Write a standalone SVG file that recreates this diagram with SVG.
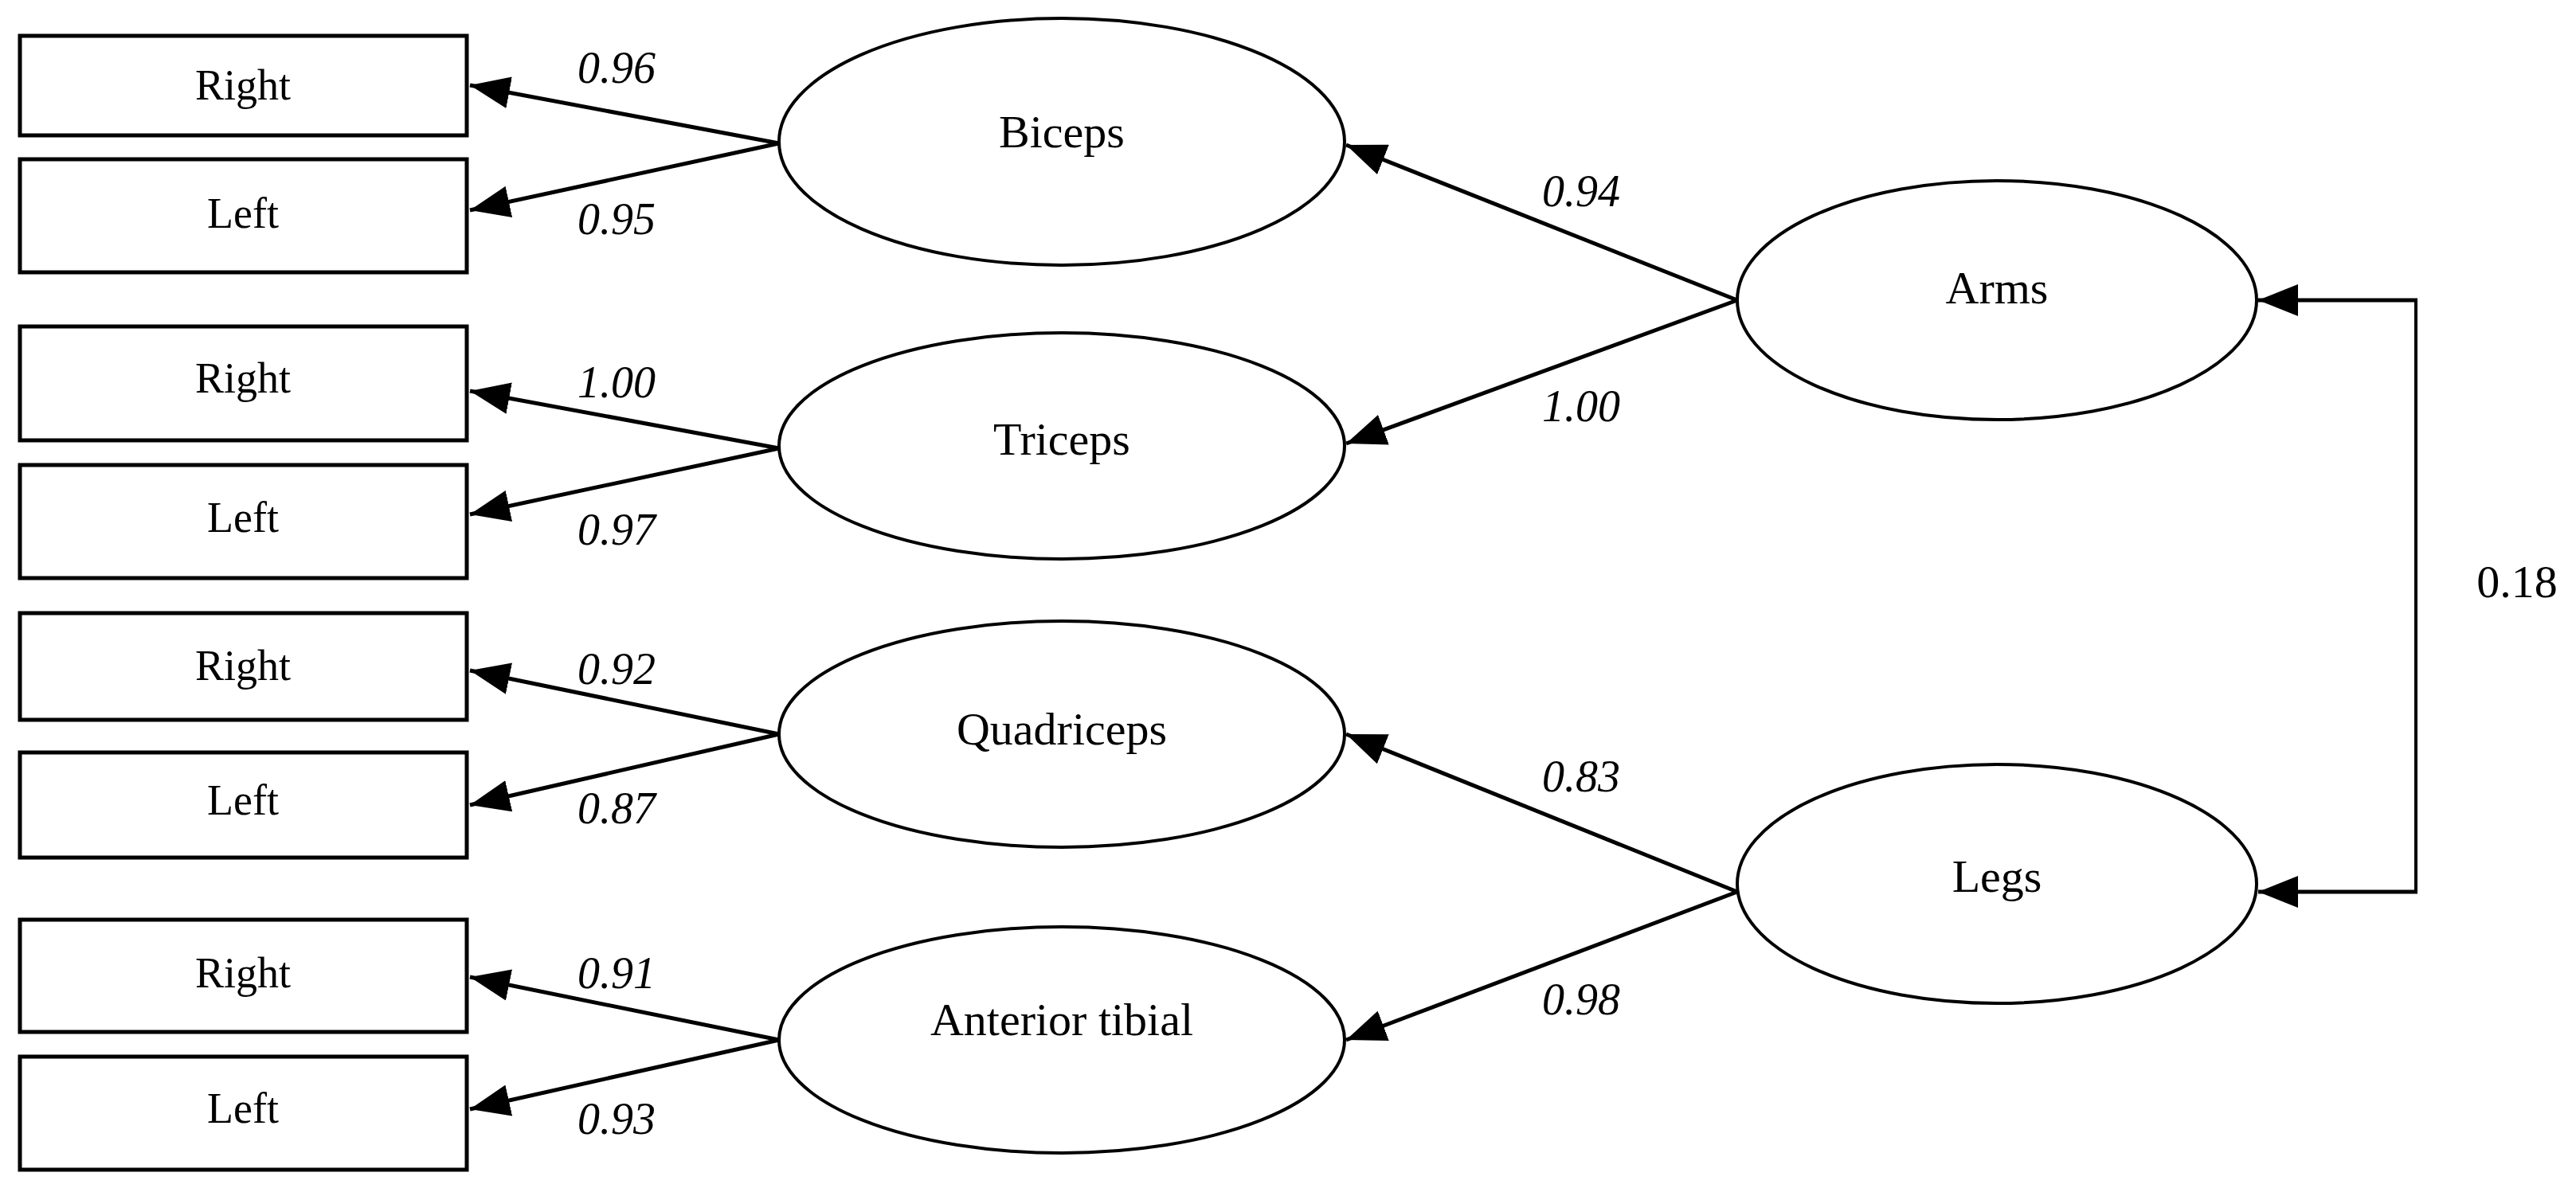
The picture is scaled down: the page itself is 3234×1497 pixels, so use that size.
<svg xmlns="http://www.w3.org/2000/svg" width="3234" height="1497" viewBox="0 0 3234 1497">
<style>
.b{fill:#fff;stroke:#000;stroke-width:5}
.e{fill:#fff;stroke:#000;stroke-width:4}
.t{font-family:"Liberation Serif",serif;font-size:54px;text-anchor:middle;dominant-baseline:central}
.u{font-family:"Liberation Serif",serif;font-size:58px;text-anchor:middle;dominant-baseline:central}
.l{font-family:"Liberation Serif",serif;font-size:56px;font-style:italic;text-anchor:middle;dominant-baseline:central}
.c{stroke:#000;stroke-width:5;fill:none;marker-end:url(#a)}
</style>
<defs><marker id="a" markerWidth="10" markerHeight="8" refX="10" refY="4" orient="auto" markerUnits="strokeWidth"><path d="M0,0L10,4L0,8z"/></marker></defs>
<rect width="3234" height="1497" fill="#fff"/>
<g id="r1"><rect class="b" x="25" y="45" width="561" height="125"/><text class="t" x="305" y="107">Right</text></g>
<g id="l1"><rect class="b" x="25" y="200" width="561" height="142"/><text class="t" x="305" y="268">Left</text></g>
<g id="r2"><rect class="b" x="25" y="410" width="561" height="143"/><text class="t" x="305" y="475">Right</text></g>
<g id="l2"><rect class="b" x="25" y="584" width="561" height="142"/><text class="t" x="305" y="650">Left</text></g>
<g id="r3"><rect class="b" x="25" y="770" width="561" height="134"/><text class="t" x="305" y="836">Right</text></g>
<g id="l3"><rect class="b" x="25" y="945" width="561" height="132"/><text class="t" x="305" y="1005">Left</text></g>
<g id="r4"><rect class="b" x="25" y="1155" width="561" height="141"/><text class="t" x="305" y="1222">Right</text></g>
<g id="l4"><rect class="b" x="25" y="1327" width="561" height="142"/><text class="t" x="305" y="1392">Left</text></g>
<g id="biceps"><ellipse class="e" cx="1333" cy="178" rx="355" ry="155"/><text class="u" x="1333" y="165">Biceps</text></g>
<g id="triceps"><ellipse class="e" cx="1333" cy="560" rx="355" ry="142"/><text class="u" x="1333" y="551">Triceps</text></g>
<g id="quad"><ellipse class="e" cx="1333" cy="922" rx="355" ry="142"/><text class="u" x="1333" y="915">Quadriceps</text></g>
<g id="tibial"><ellipse class="e" cx="1333" cy="1306" rx="355" ry="142"/><text class="u" x="1333" y="1280">Anterior tibial</text></g>
<g id="arms"><ellipse class="e" cx="2507" cy="377" rx="326" ry="150"/><text class="u" x="2507" y="361">Arms</text></g>
<g id="legs"><ellipse class="e" cx="2507" cy="1110" rx="326" ry="150"/><text class="u" x="2507" y="1100">Legs</text></g>
<g id="connectors">
<line class="c" x1="978" y1="180" x2="590" y2="107"/>
<line class="c" x1="978" y1="180" x2="590" y2="264"/>
<line class="c" x1="978" y1="563" x2="590" y2="491"/>
<line class="c" x1="978" y1="563" x2="590" y2="646"/>
<line class="c" x1="978" y1="922" x2="590" y2="842"/>
<line class="c" x1="978" y1="922" x2="590" y2="1011"/>
<line class="c" x1="978" y1="1306" x2="590" y2="1227"/>
<line class="c" x1="978" y1="1306" x2="590" y2="1393"/>
<line class="c" x1="2181" y1="377" x2="1690" y2="182"/>
<line class="c" x1="2181" y1="377" x2="1690" y2="557"/>
<line class="c" x1="2181" y1="1120" x2="1690" y2="922"/>
<line class="c" x1="2181" y1="1120" x2="1690" y2="1306"/>
<path d="M3033,377V1120" stroke="#000" stroke-width="4" fill="none"/>
<line class="c" x1="3035" y1="377" x2="2835" y2="377"/>
<line class="c" x1="3035" y1="1120" x2="2835" y2="1120"/>
</g>
<g id="labels">
<text class="l" x="774" y="85">0.96</text>
<text class="l" x="774" y="275">0.95</text>
<text class="l" x="774" y="480">1.00</text>
<text class="l" x="774" y="665">0.97</text>
<text class="l" x="774" y="840">0.92</text>
<text class="l" x="774" y="1015">0.87</text>
<text class="l" x="774" y="1222">0.91</text>
<text class="l" x="774" y="1405">0.93</text>
<text class="l" x="1985" y="240">0.94</text>
<text class="l" x="1985" y="510">1.00</text>
<text class="l" x="1985" y="975">0.83</text>
<text class="l" x="1985" y="1255">0.98</text>
<text class="u" x="3160" y="730">0.18</text>
</g>
</svg>
